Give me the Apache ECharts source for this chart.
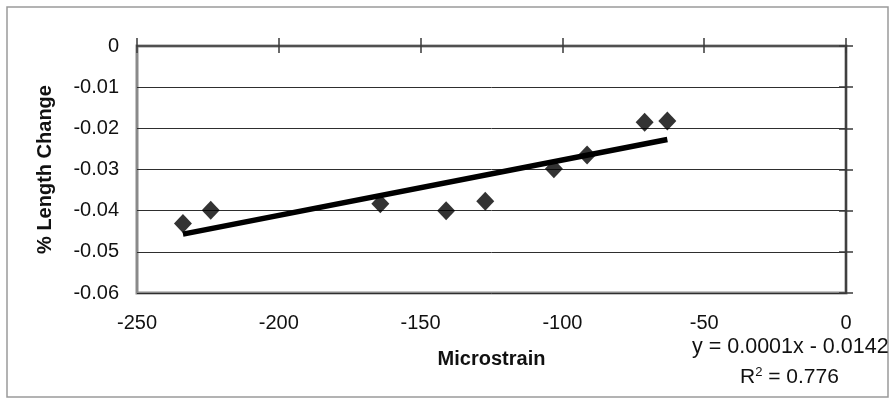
<!DOCTYPE html>
<html>
<head>
<meta charset="utf-8">
<script src="https://cdn.jsdelivr.net/npm/echarts@6/dist/echarts.min.js"></script>
<style>
  html, body { margin: 0; padding: 0; background: #fff; }
  #chart { width: 890px; height: 402px; }
</style>
</head>
<body>
<div id="chart"></div>
<script>
// data
const microstrain = [-233.8, -224, -164.2, -141, -127.2, -103, -91.3, -71, -63]
const lengthChange = [-0.0431, -0.0399, -0.0383, -0.0400, -0.0377, -0.0298, -0.0265, -0.0185, -0.0182]
const xTicks = [-250, -200, -150, -100, -50, 0]
const yTicks = [0, -0.01, -0.02, -0.03, -0.04, -0.05, -0.06]
const equationText = 'y = 0.0001x - 0.0142'
const r2Text = '0.776'

// linear trendline (least squares), drawn between min and max x
const n = microstrain.length
const mx = microstrain.reduce((a, b) => a + b, 0) / n
const my = lengthChange.reduce((a, b) => a + b, 0) / n
let sxy = 0, sxx = 0
microstrain.forEach((x, i) => {
  sxy += (x - mx) * (lengthChange[i] - my)
  sxx += (x - mx) * (x - mx)
})
const slope = sxy / sxx
const icpt = my - slope * mx
const xLo = Math.min(...microstrain)
const xHi = Math.max(...microstrain)
const trend = [[xLo, icpt + slope * xLo], [xHi, icpt + slope * xHi]]

const font = 'Liberation Sans, Arial, sans-serif'
const xRange = { type: 'value', min: xTicks[0], max: xTicks[xTicks.length - 1], interval: 50 }
const yRange = { type: 'value', min: yTicks[yTicks.length - 1], max: yTicks[0], interval: 0.01 }
const tickStyle = { color: '#3a3a3a', width: 1.5 }

const chart = echarts.init(document.getElementById('chart'))
const option = {
  backgroundColor: '#fff',
  animation: false,
  grid: {
    left: 137, right: 44, top: 46, bottom: 109,
    show: true, borderColor: '#8a8a8a', borderWidth: 3
  },
  xAxis: [
    {
      ...xRange, position: 'bottom',
      name: 'Microstrain', nameLocation: 'middle', nameGap: 56,
      nameTextStyle: { fontFamily: font, fontSize: 20, fontWeight: 'bold', color: '#111' },
      axisLine: { show: false }, axisTick: { show: false }, splitLine: { show: false },
      axisLabel: { fontFamily: font, fontSize: 20, color: '#111', margin: 20 }
    },
    {
      ...xRange, position: 'top',
      axisLine: { show: true, lineStyle: { color: '#505050', width: 2 } },
      axisTick: { show: true, inside: false, length: 8, lineStyle: tickStyle },
      axisLabel: { show: false }, splitLine: { show: false }
    },
    {
      ...xRange, position: 'top',
      axisLine: { show: false },
      axisTick: { show: true, inside: true, length: 7, lineStyle: tickStyle },
      axisLabel: { show: false }, splitLine: { show: false }
    }
  ],
  yAxis: [
    {
      ...yRange, position: 'left',
      name: '% Length Change', nameLocation: 'middle', nameGap: 82, nameRotate: 90,
      nameTextStyle: { fontFamily: font, fontSize: 20, fontWeight: 'bold', color: '#111' },
      axisLine: { show: false }, axisTick: { show: false },
      axisLabel: {
        fontFamily: font, fontSize: 20, color: '#111', margin: 18,
        formatter: v => (v === 0 ? '0' : v.toFixed(2))
      },
      splitLine: { show: true, lineStyle: { color: '#2e2e2e', width: 1 } }
    },
    {
      ...yRange, position: 'right',
      axisLine: { show: true, lineStyle: { color: '#404040', width: 2 } },
      axisTick: { show: true, inside: false, length: 7, lineStyle: tickStyle },
      axisLabel: { show: false }, splitLine: { show: false }
    },
    {
      ...yRange, position: 'right',
      axisLine: { show: false },
      axisTick: { show: true, inside: true, length: 7, lineStyle: tickStyle },
      axisLabel: { show: false }, splitLine: { show: false }
    }
  ],
  series: [
    {
      name: 'trend',
      type: 'line',
      data: trend,
      showSymbol: false,
      symbol: 'none',
      lineStyle: { color: '#000', width: 5.5 },
      z: 3
    },
    {
      name: 'data',
      type: 'scatter',
      data: microstrain.map((x, i) => [x, lengthChange[i]]),
      symbol: 'diamond',
      symbolSize: [18, 19],
      itemStyle: { color: '#000' },
      z: 4
    }
  ],
  graphic: [
    {
      type: 'rect', silent: true, z: -1,
      shape: { x: 7, y: 7, width: 881, height: 390 },
      style: { fill: 'none', stroke: '#9a9a9a', lineWidth: 1.5 }
    },
    {
      type: 'text', left: 692, top: 336, z: 10,
      style: {
        text: equationText,
        font: '21.5px ' + font, fill: '#111'
      }
    },
    {
      type: 'text', left: 740, top: 366, z: 10,
      style: {
        text: 'R{sup|2} = ' + r2Text,
        font: '21px ' + font, fill: '#111',
        rich: { sup: { fontSize: 13, fontFamily: font, verticalAlign: 'top', padding: [0, 0, 10, 0] } }
      }
    }
  ]
}
chart.setOption(option)
</script>
</body>
</html>
